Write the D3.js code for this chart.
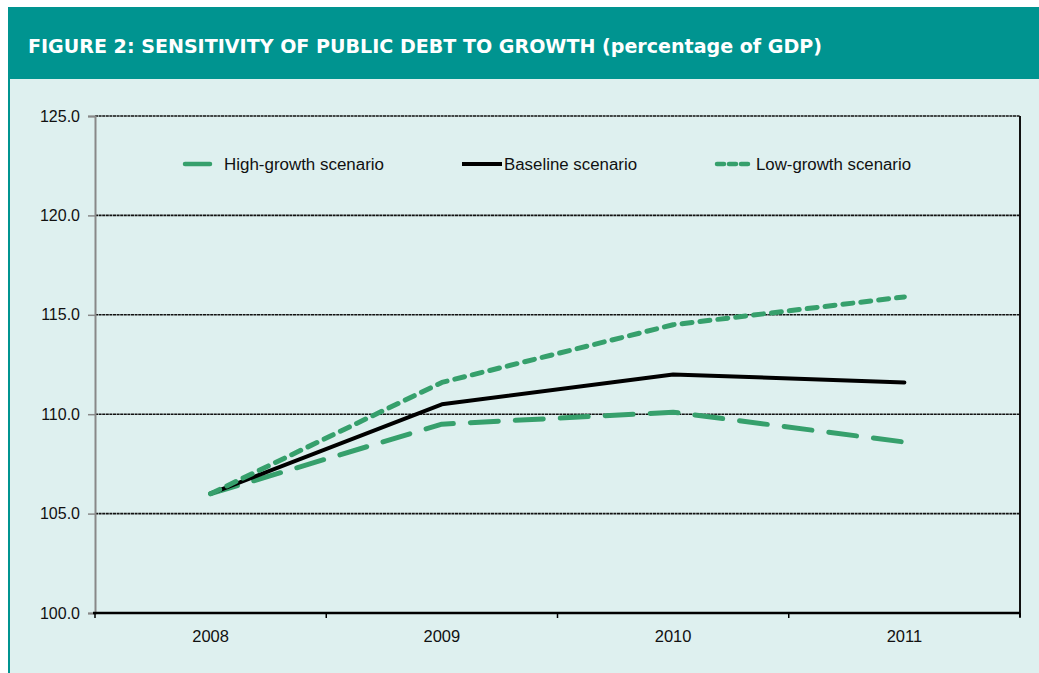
<!DOCTYPE html>
<html><head><meta charset="utf-8">
<script src="https://cdn.jsdelivr.net/npm/d3@7/dist/d3.min.js"></script>
<style>html,body{margin:0;padding:0;background:#fff;}svg{display:block;}</style>
</head><body><svg id="c" width="1039" height="673"></svg>
<script>
const years = ["2008","2009","2010","2011"];
const highGrowth = [106.0, 109.5, 110.1, 108.6];
const baseline = [106.0, 110.5, 112.0, 111.6];
const lowGrowth = [106.0, 111.6, 114.5, 115.9];
const yTicks = [100, 105, 110, 115, 120, 125];
const seriesNames = ["High-growth scenario", "Baseline scenario", "Low-growth scenario"];

(function () {
const svg = d3.select("#c");
const W = 1039, H = 673;
const teal = "#009490", panel = "#def0ef", green = "#36a06c";
const font = "'Liberation Sans',Arial,sans-serif";

// panel & header
svg.append("rect").attr("x", 8).attr("y", 7).attr("width", W - 8).attr("height", H - 7).attr("fill", panel);
svg.append("rect").attr("x", 8).attr("y", 79).attr("width", 2).attr("height", H - 79).attr("fill", teal);
svg.append("rect").attr("x", 8).attr("y", 7).attr("width", W - 8).attr("height", 72).attr("fill", teal);
const title = svg.append("text").attr("x", 28).attr("y", 53).attr("fill", "#fff")
  .style("font-family", "'DejaVu Sans','Open Sans',sans-serif").style("font-size", "19.5px").style("font-weight", "bold");
title.append("tspan").text("FIGURE 2: SENSITIVITY OF PUBLIC DEBT TO GROWTH ");
title.append("tspan").text("(percentage of GDP)");
title.attr("textLength", 794).attr("lengthAdjust", "spacingAndGlyphs");

const pLeft = 95, pRight = 1020, pTop = 116, pBottom = 613;
const x = d3.scaleBand().domain(years).range([pLeft, pRight]).padding(0);
const y = d3.scaleLinear().domain([100, 125]).range([pBottom, pTop]);

// gridlines
svg.append("g").selectAll("line").data(yTicks.filter(d => d > 100)).join("line")
  .attr("x1", pLeft).attr("x2", pRight).attr("y1", d => y(d)).attr("y2", d => y(d))
  .attr("stroke", "#111").attr("stroke-width", 1.6).attr("stroke-dasharray", "3,0.6");
// right border
svg.append("line").attr("x1", pRight).attr("x2", pRight).attr("y1", pTop).attr("y2", pBottom + 4)
  .attr("stroke", "#111").attr("stroke-width", 2);

// y axis
const yAxis = svg.append("g").attr("transform", `translate(${pLeft},0)`)
  .call(d3.axisLeft(y).tickValues(yTicks).tickFormat(d3.format(".1f")).tickSize(7).tickPadding(8));
yAxis.select(".domain").attr("stroke", "#888").attr("stroke-width", 2);
yAxis.selectAll(".tick line").attr("stroke", "#888").attr("stroke-width", 1.5);
yAxis.selectAll("text").attr("fill", "#111").style("font-family", font).style("font-size", "16px");

// x axis
const xAxis = svg.append("g").attr("transform", `translate(0,${pBottom})`)
  .call(d3.axisBottom(x).tickSize(0).tickPadding(17));
xAxis.select(".domain").remove();
svg.append("line").attr("x1", pLeft - 2).attr("x2", pRight).attr("y1", pBottom).attr("y2", pBottom)
  .attr("stroke", "#000").attr("stroke-width", 2.5);
svg.append("g").selectAll("line").data(years.concat(["end"])).join("line")
  .attr("x1", (d, i) => pLeft + i * x.bandwidth()).attr("x2", (d, i) => pLeft + i * x.bandwidth())
  .attr("y1", pBottom).attr("y2", pBottom + 5).attr("stroke", "#000").attr("stroke-width", 1.5);
xAxis.selectAll("text").attr("fill", "#111").style("font-family", font).style("font-size", "16.5px");

const cx = d => x(d) + x.bandwidth() / 2;
const line = d3.line().x((d, i) => cx(years[i])).y(d => y(d));
const styles = [
  {data: highGrowth, color: green, w: 5, dash: "28,17", cap: "round"},
  {data: baseline, color: "#000", w: 4, dash: null, cap: "round"},
  {data: lowGrowth, color: green, w: 5, dash: "10,8", cap: "round"}
];
styles.forEach(s => {
  svg.append("path").datum(s.data).attr("d", line).attr("fill", "none")
    .attr("stroke", s.color).attr("stroke-width", s.w).attr("stroke-linecap", s.cap)
    .attr("stroke-linejoin", "round").attr("stroke-dasharray", s.dash);
});

// legend
const legendPos = [{x1: 185, x2: 210, tx: 224, len: 160}, {x1: 462, x2: 502, tx: 504, len: 133}, {x1: 717, x2: 752, tx: 756, len: 155}];
const legDash = ["30,0", null, "7,5"];
seriesNames.forEach((n, i) => {
  const p = legendPos[i], s = styles[i];
  svg.append("line").attr("x1", p.x1).attr("x2", p.x2).attr("y1", 164).attr("y2", 164)
    .attr("stroke", s.color).attr("stroke-width", i === 1 ? 4 : 4.5)
    .attr("stroke-linecap", i === 1 ? "butt" : "round").attr("stroke-dasharray", legDash[i]);
  svg.append("text").attr("x", p.tx).attr("y", 170).text(n).attr("fill", "#111")
    .style("font-family", font).style("font-size", "16px")
    .attr("textLength", p.len).attr("lengthAdjust", "spacingAndGlyphs");
});
})();
</script></body></html>
